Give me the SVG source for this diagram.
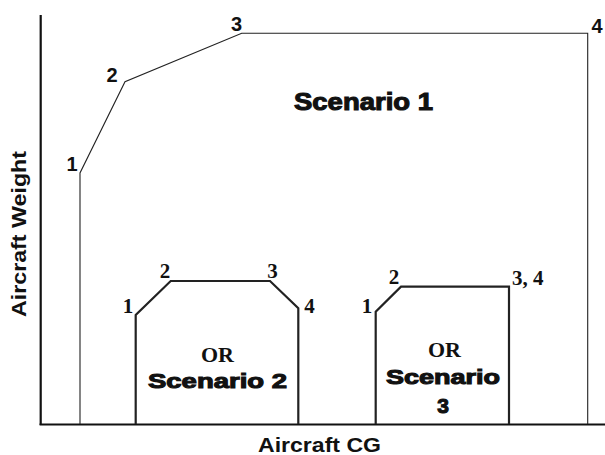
<svg xmlns="http://www.w3.org/2000/svg" width="605" height="455" viewBox="0 0 605 455">
<style>
.axis{stroke:#111;stroke-width:2.2;fill:none}
.thin{stroke:#222;stroke-width:1.1;fill:none}
.thick{stroke:#222;stroke-width:2.2;fill:none;stroke-linejoin:miter}
.sans{font-family:"Liberation Sans",Arial,sans-serif;font-weight:bold;fill:#111}
.heavy{font-family:"Liberation Sans",Arial,sans-serif;font-weight:bold;fill:#111;stroke:#111;stroke-width:1.1;text-anchor:middle}
.serif{font-family:"Liberation Serif","Times New Roman",serif;font-weight:bold;fill:#111}
</style>
<rect width="605" height="455" fill="#fff"/>
<g id="axes">
<line class="axis" x1="40.7" y1="15" x2="40.7" y2="425"/>
<line class="axis" x1="39.6" y1="424.5" x2="605" y2="424.5"/>
<text class="sans" font-size="21" text-anchor="middle" transform="translate(26,234) rotate(-90)" textLength="166" lengthAdjust="spacingAndGlyphs">Aircraft Weight</text>
<text class="sans" font-size="21" x="319.5" y="452" text-anchor="middle" textLength="123" lengthAdjust="spacingAndGlyphs">Aircraft CG</text>
</g>
<g id="connectors">
<polyline id="scenario1-line" class="thin" points="80,424 80,173 125,81.7 241.7,33.3 587.7,33.3 587.7,424"/>
<polyline id="scenario2-line" class="thick" points="135.7,424 135.7,315 170.7,281 270,281 298.3,308.3 298.3,424"/>
<polyline id="scenario3-line" class="thick" points="375.7,424 375.7,311.7 401,286.7 509,286.7 509,424"/>
</g>
<g id="scenario1">
<text class="sans" font-size="20" x="72" y="171" text-anchor="middle">1</text>
<text class="sans" font-size="20" x="112" y="82" text-anchor="middle">2</text>
<text class="sans" font-size="20" x="236.5" y="31" text-anchor="middle">3</text>
<text class="sans" font-size="20" x="597" y="33" text-anchor="middle">4</text>
<text class="heavy" font-size="24" x="363.5" y="110" textLength="139" lengthAdjust="spacingAndGlyphs">Scenario 1</text>
</g>
<g id="scenario2">
<text class="serif" font-size="21" x="128" y="313" text-anchor="middle">1</text>
<text class="serif" font-size="21" x="165" y="278" text-anchor="middle">2</text>
<text class="serif" font-size="21" x="272.5" y="278" text-anchor="middle">3</text>
<text class="serif" font-size="21" x="309.5" y="313" text-anchor="middle">4</text>
<text class="serif" font-size="22" x="217.5" y="362" text-anchor="middle">OR</text>
<text class="heavy" font-size="21" x="217.5" y="388" textLength="139" lengthAdjust="spacingAndGlyphs">Scenario 2</text>
</g>
<g id="scenario3">
<text class="serif" font-size="21" x="367" y="313" text-anchor="middle">1</text>
<text class="serif" font-size="21" x="394" y="284" text-anchor="middle">2</text>
<text class="serif" font-size="21" x="512" y="285">3, 4</text>
<text class="serif" font-size="22" x="444.5" y="357" text-anchor="middle">OR</text>
<text class="heavy" font-size="21" x="443" y="384" textLength="114" lengthAdjust="spacingAndGlyphs">Scenario</text>
<text class="heavy" font-size="21" x="443" y="412.5">3</text>
</g>
</svg>
